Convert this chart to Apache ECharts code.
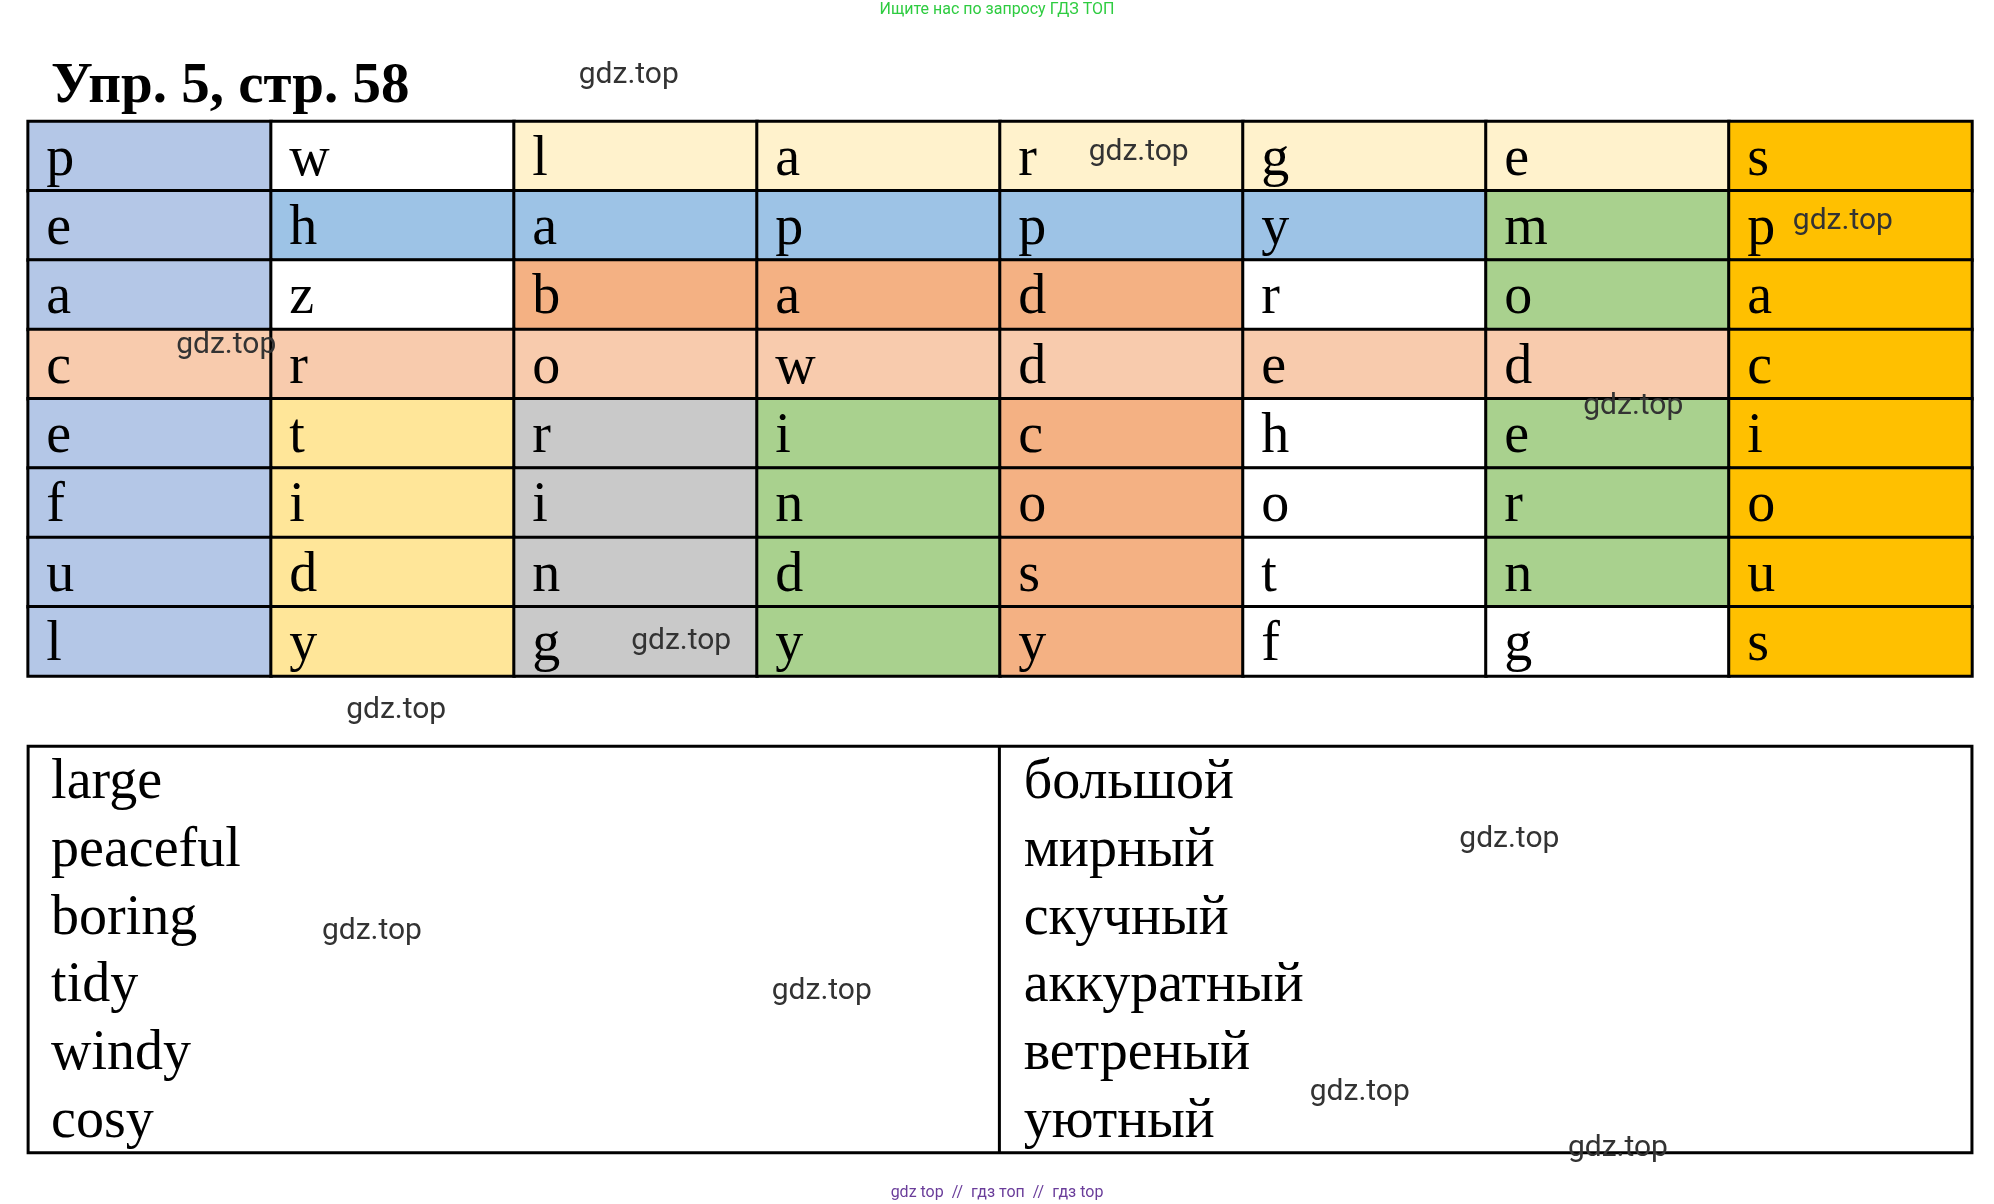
<!DOCTYPE html>
<html>
<head>
<meta charset="utf-8">
<script src="https://cdn.jsdelivr.net/npm/echarts@6/dist/echarts.min.js"></script>
<style>html,body{margin:0;padding:0;background:#fff}#main{width:1994px;height:1204px}</style>
</head>
<body>
<div id="main"></div>
<script>
const k = 1.278;
const cols = ['0', '1', '2', '3', '4', '5', '6', '7'];
const rows = ['0', '1', '2', '3', '4', '5', '6', '7'];
const letters = [
  ['p', 'w', 'l', 'a', 'r', 'g', 'e', 's'],
  ['e', 'h', 'a', 'p', 'p', 'y', 'm', 'p'],
  ['a', 'z', 'b', 'a', 'd', 'r', 'o', 'a'],
  ['c', 'r', 'o', 'w', 'd', 'e', 'd', 'c'],
  ['e', 't', 'r', 'i', 'c', 'h', 'e', 'i'],
  ['f', 'i', 'i', 'n', 'o', 'o', 'r', 'o'],
  ['u', 'd', 'n', 'd', 's', 't', 'n', 'u'],
  ['l', 'y', 'g', 'y', 'y', 'f', 'g', 's']
];
const cellColors = [
  ['#B4C7E7', '#FFFFFF', '#FFF2CC', '#FFF2CC', '#FFF2CC', '#FFF2CC', '#FFF2CC', '#FFC000'],
  ['#B4C7E7', '#9DC3E6', '#9DC3E6', '#9DC3E6', '#9DC3E6', '#9DC3E6', '#A9D18E', '#FFC000'],
  ['#B4C7E7', '#FFFFFF', '#F4B183', '#F4B183', '#F4B183', '#FFFFFF', '#A9D18E', '#FFC000'],
  ['#F8CBAD', '#F8CBAD', '#F8CBAD', '#F8CBAD', '#F8CBAD', '#F8CBAD', '#F8CBAD', '#FFC000'],
  ['#B4C7E7', '#FFE699', '#C9C9C9', '#A9D18E', '#F4B183', '#FFFFFF', '#A9D18E', '#FFC000'],
  ['#B4C7E7', '#FFE699', '#C9C9C9', '#A9D18E', '#F4B183', '#FFFFFF', '#A9D18E', '#FFC000'],
  ['#B4C7E7', '#FFE699', '#C9C9C9', '#A9D18E', '#F4B183', '#FFFFFF', '#A9D18E', '#FFC000'],
  ['#B4C7E7', '#FFE699', '#C9C9C9', '#A9D18E', '#F4B183', '#FFFFFF', '#FFFFFF', '#FFC000']
];
const wordsEn = ['large', 'peaceful', 'boring', 'tidy', 'windy', 'cosy'];
const wordsRu = ['большой', 'мирный', 'скучный', 'аккуратный', 'ветреный', 'уютный'];
// watermark centres, in reference coords before scaling
const marks = [[492,59],[891,119],[1442,173],[177,270],[1278,318],[533,502],[310,556],[1181,657],[291,729],[643,776],[1064,855],[1266,899]];

const data = [];
letters.forEach((row, r) => row.forEach((ch, c) => {
  data.push({ value: [c, r, 1], ch: ch, itemStyle: { color: cellColors[r][c] } });
}));

const serif = '"Liberation Serif", "DejaVu Serif", serif';
const graphic = [
  { type: 'text', left: 'center', top: 2, style: { text: 'Ищите нас по запросу ГДЗ ТОП', fill: '#2ecc40', font: '16px Roboto' } },
  { type: 'text', x: 40 * k, y: 68 * k, style: { text: 'Упр. 5, стр. 58', fill: '#000', font: 'bold 57px ' + serif, verticalAlign: 'middle' } },
  { type: 'rect', shape: { x: 22 * k, y: 584 * k, width: 1521 * k, height: 318 * k }, style: { fill: 'none', stroke: '#000', lineWidth: 3 } },
  { type: 'line', shape: { x1: 782 * k, y1: 584 * k, x2: 782 * k, y2: 902 * k }, style: { stroke: '#000', lineWidth: 3 } },
  { type: 'text', left: 'center', top: 1185, style: { text: 'gdz top  //  гдз топ  //  гдз top', fill: '#6a3d9a', font: '16px Roboto' } }
];
wordsEn.forEach((w, i) => graphic.push({ type: 'text', x: 40 * k, y: (613 + i * 53) * k, style: { text: w, fill: '#000', font: '56px ' + serif, verticalAlign: 'middle' } }));
wordsRu.forEach((w, i) => graphic.push({ type: 'text', x: 801 * k, y: (613 + i * 53) * k, style: { text: w, fill: '#000', font: '56px ' + serif, verticalAlign: 'middle' } }));
marks.forEach(m => graphic.push({ type: 'text', x: m[0] * k, y: m[1] * k, z: 100, style: { text: 'gdz.top', fill: '#333', font: '30px Roboto', align: 'center', verticalAlign: 'middle' } }));

const chart = echarts.init(document.getElementById('main'));
chart.setOption({
  backgroundColor: '#fff',
  animation: false,
  grid: { left: 22 * k, top: 95 * k, width: 1521 * k, height: 434 * k },
  xAxis: { type: 'category', data: cols, show: false },
  yAxis: { type: 'category', data: rows, inverse: true, show: false },
  series: [{
    type: 'heatmap',
    data: data,
    itemStyle: { borderColor: '#000', borderWidth: 3 },
    label: {
      show: true, position: 'insideLeft', distance: 20, offset: [0, 4],
      formatter: p => p.data.ch,
      color: '#000', fontSize: 56, fontFamily: serif
    },
    emphasis: { disabled: true }
  }],
  graphic: graphic
});
</script>
</body>
</html>
